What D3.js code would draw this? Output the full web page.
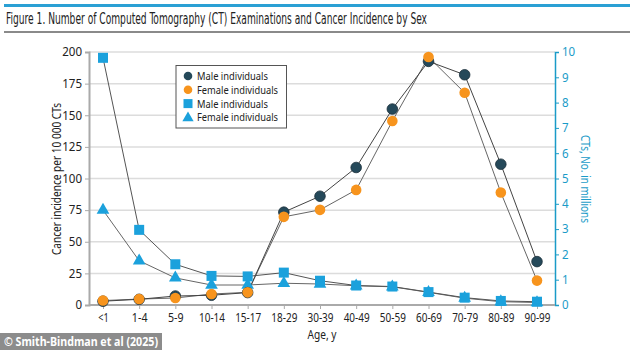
<!DOCTYPE html>
<html><head><meta charset="utf-8">
<script src="https://cdn.jsdelivr.net/npm/d3@7"></script>
<style>body{margin:0;background:#fff;}svg{display:block;font-family:"Noto Sans",sans-serif;}</style>
</head><body>
<script>
const categories = ["<1","1-4","5-9","10-14","15-17","18-29","30-39","40-49","50-59","60-69","70-79","80-89","90-99"];
const maleIncidence = [3,4.5,7.1,7.7,9.8,73.4,86,108.7,154.9,192.6,182,111.3,34.3];
const femaleIncidence = [3.5,4.7,5.5,8.7,10,69.7,75.2,91,145.4,196,167.8,88.9,19.3];
const maleCTs = [9.77,2.97,1.61,1.15,1.13,1.28,0.96,0.77,0.73,0.51,0.29,0.16,0.13];
const femaleCTs = [3.75,1.75,1.07,0.79,0.79,0.86,0.83,0.76,0.72,0.5,0.27,0.13,0.1];
const leftTicks = [0,25,50,75,100,125,150,175,200];
const rightTicks = [0,1,2,3,4,5,6,7,8,9,10];
const title = "Figure 1. Number of Computed Tomography (CT) Examinations and Cancer Incidence by Sex";

const W=634,H=350;
const svg=d3.select("body").append("svg").attr("width",W).attr("height",H);
const x=d3.scalePoint().domain(categories).range([103,537]);
const yL=d3.scaleLinear().domain([0,200]).range([305,52]);
const yR=d3.scaleLinear().domain([0,10]).range([305,52]);
const blue="#1ba1dc", teal="#1a9bc8", navy="#25495a", orange="#f7941d";

// title
svg.append("rect").attr("x",4).attr("y",4).attr("width",626).attr("height",3).attr("fill","#2aa0d4");
svg.append("text").attr("x",6).attr("y",24).attr("font-size",15)
  .attr("font-family","'Liberation Sans Narrow','DejaVu Sans Condensed','Noto Sans',sans-serif").attr("fill","#222")
  .attr("textLength",421).attr("lengthAdjust","spacingAndGlyphs").text(title);
svg.append("rect").attr("x",4).attr("y",31).attr("width",626).attr("height",2).attr("fill","#8a8a8a");

// gridlines
svg.append("g").selectAll("line").data(leftTicks.filter(d=>d>0)).join("line")
  .attr("x1",89).attr("x2",555).attr("y1",d=>yL(d)).attr("y2",d=>yL(d))
  .attr("stroke","#dcdcdc").attr("stroke-width",1.5);

// left axis
const gl=svg.append("g").attr("transform","translate(89,0)")
  .call(d3.axisLeft(yL).tickValues(leftTicks).tickSize(4).tickPadding(3));
gl.select(".domain").attr("stroke","#aaa").attr("stroke-width",2);
gl.selectAll(".tick line").attr("stroke","#aaa");
gl.selectAll("text").attr("font-size",12).attr("fill","#222").attr("font-family","Noto Sans")
  .attr("textLength",function(){return this.textContent.length*6.6;}).attr("lengthAdjust","spacingAndGlyphs");

// right axis
const gr=svg.append("g").attr("transform","translate(555,0)")
  .call(d3.axisRight(yR).tickValues(rightTicks).tickSize(4).tickPadding(3));
gr.select(".domain").attr("stroke",teal).attr("stroke-width",1.5);
gr.selectAll(".tick line").attr("stroke",teal);
gr.selectAll("text").attr("font-size",12).attr("fill",teal).attr("font-family","Noto Sans")
  .attr("textLength",function(){return this.textContent.length*6.6;}).attr("lengthAdjust","spacingAndGlyphs");

// bottom axis
const gb=svg.append("g").attr("transform","translate(0,305)")
  .call(d3.axisBottom(x).tickSize(4).tickPadding(4));
gb.select(".domain").remove();
svg.append("line").attr("x1",89).attr("x2",555).attr("y1",305).attr("y2",305).attr("stroke","#aaa").attr("stroke-width",2);
gb.selectAll(".tick line").attr("stroke","#aaa");
gb.selectAll("text").attr("font-size",12).attr("fill","#222").attr("font-family","Noto Sans")
  .attr("textLength",function(){return this.textContent.length*5.2;}).attr("lengthAdjust","spacingAndGlyphs");

// axis titles
svg.append("text").attr("transform","translate(61,179) rotate(-90)").attr("text-anchor","middle")
  .attr("font-size",12.5).attr("fill","#222").attr("textLength",152).attr("lengthAdjust","spacingAndGlyphs")
  .text("Cancer incidence per 10 000 CTs");
svg.append("text").attr("transform","translate(581,179) rotate(90)").attr("text-anchor","middle")
  .attr("font-size",12.5).attr("fill",teal).attr("textLength",88).attr("lengthAdjust","spacingAndGlyphs")
  .text("CTs, No. in millions");
svg.append("text").attr("x",322).attr("y",339).attr("text-anchor","middle")
  .attr("font-size",12.5).attr("fill","#222").attr("textLength",29).attr("lengthAdjust","spacingAndGlyphs").text("Age, y");

// lines
function drawLine(vals,scale,col){
  svg.append("path").datum(vals).attr("fill","none").attr("stroke",col).attr("stroke-width",1)
    .attr("d",d3.line().x((d,i)=>x(categories[i])).y(d=>scale(d)));
}
drawLine(femaleCTs,yR,"#666");
drawLine(maleCTs,yR,"#555");
drawLine(femaleIncidence,yL,"#666");
drawLine(maleIncidence,yL,"#444");

const tri=d3.symbol().type(d3.symbolTriangle).size(70);
svg.append("g").selectAll("path").data(femaleCTs).join("path")
  .attr("transform",(d,i)=>`translate(${x(categories[i])},${yR(d)})`).attr("d",tri).attr("fill",blue);
svg.append("g").selectAll("rect").data(maleCTs).join("rect")
  .attr("x",(d,i)=>x(categories[i])-5).attr("y",d=>yR(d)-5).attr("width",10).attr("height",10).attr("fill",blue);
svg.append("g").selectAll("circle").data(maleIncidence).join("circle")
  .attr("cx",(d,i)=>x(categories[i])).attr("cy",d=>yL(d)).attr("r",5.3).attr("fill",navy).attr("stroke","#1a2f3a").attr("stroke-width",0.8);
svg.append("g").selectAll("circle").data(femaleIncidence).join("circle")
  .attr("cx",(d,i)=>x(categories[i])).attr("cy",d=>yL(d)).attr("r",5.3).attr("fill",orange);

// legend
const lg=svg.append("g");
lg.append("rect").attr("x",176).attr("y",65.5).attr("width",110.5).attr("height",62.5).attr("fill","#fff").attr("stroke","#555").attr("stroke-width",1);
const leg=[["Male individuals","c",navy,71],["Female individuals","c",orange,81],["Male individuals","s",blue,71],["Female individuals","t",blue,81]];
leg.forEach((d,i)=>{
  const yy=76+i*13.8, xx=188;
  if(d[1]==="c") lg.append("circle").attr("cx",xx).attr("cy",yy).attr("r",4.3).attr("fill",d[2]);
  else if(d[1]==="s") lg.append("rect").attr("x",xx-4.5).attr("y",yy-4.5).attr("width",9).attr("height",9).attr("fill",d[2]);
  else lg.append("path").attr("transform",`translate(${xx},${yy+0.5})`).attr("d",d3.symbol().type(d3.symbolTriangle).size(55)).attr("fill",d[2]);
  lg.append("text").attr("x",197).attr("y",yy+4).attr("font-size",11.5).attr("fill","#222")
    .attr("textLength",d[3]).attr("lengthAdjust","spacingAndGlyphs").text(d[0]);
});

// credit
svg.append("rect").attr("x",0).attr("y",333).attr("width",162).attr("height",17).attr("fill","#8c8c8c");
svg.append("text").attr("x",4).attr("y",346).attr("font-size",11.5).attr("font-weight","bold").attr("fill","#fff")
  .attr("textLength",154).attr("lengthAdjust","spacingAndGlyphs").text("© Smith-Bindman et al (2025)");
</script>
</body></html>
